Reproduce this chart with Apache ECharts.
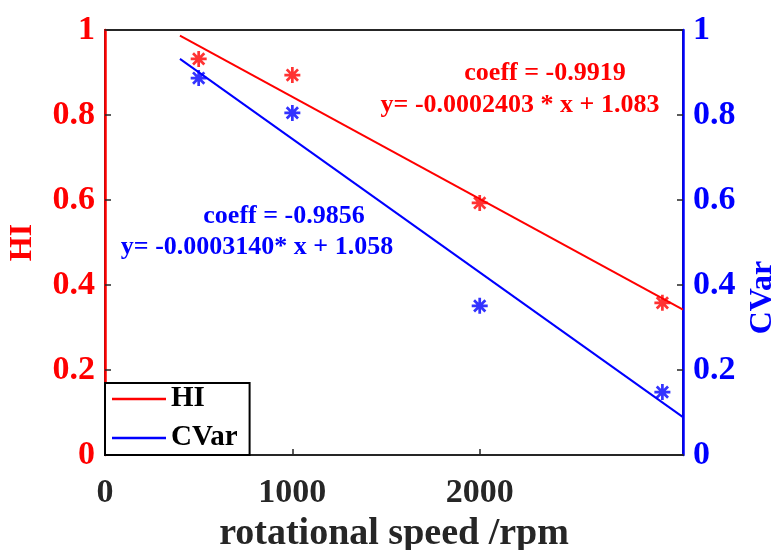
<!DOCTYPE html>
<html>
<head>
<meta charset="utf-8">
<script src="https://cdn.jsdelivr.net/npm/echarts@6/dist/echarts.min.js"></script>
<style>
html,body{margin:0;padding:0;background:#fff;}
#c{width:774px;height:550px;}
</style>
</head>
<body>
<div id="c"></div>
<script>
// ---- data ----
const speeds = [500, 1000, 2000, 2975];
const hiValues = [0.932, 0.894, 0.593, 0.358];
const cvarValues = [0.887, 0.805, 0.351, 0.148];
const hiFitX = [400, 3085];
const hiFitY = [0.987, 0.342];
const cvarFitX = [400, 3085];
const cvarFitY = [0.932, 0.089];
const xTickValues = [0, 1000, 2000];
const yTickValues = [0, 0.2, 0.4, 0.6, 0.8, 1];
const hiNote = ['coeff = -0.9919', 'y= -0.0002403 * x + 1.083'];
const cvarNote = ['coeff = -0.9856', 'y= -0.0003140* x + 1.058'];

const FONT = '"Liberation Serif", "Times New Roman", serif';
const RED = '#ff0000', BLUE = '#0000ff', DARK = '#262626';
const STAR = 'path://M-1.7,-10 L1.7,-10 L1.7,10 L-1.7,10 Z M-10,-1.7 L10,-1.7 L10,1.7 L-10,1.7 Z M-5.87,-8.27 L8.27,5.87 L5.87,8.27 L-8.27,-5.87 Z M-8.27,5.87 L5.87,-8.27 L8.27,-5.87 L-5.87,8.27 Z';

const pairs = (xs, ys) => xs.map((x, i) => [x, ys[i]]);

const chart = echarts.init(document.getElementById('c'), null, {renderer: 'canvas'});

function yAxisCfg(pos, color) {
  return {
    type: 'value', position: pos, min: 0, max: 1, interval: 0.2,
    axisLine: {show: true, lineStyle: {color: color, width: 2.5}},
    axisTick: {show: true, inside: true, length: 6, lineStyle: {color: DARK, width: 1.5}},
    axisLabel: {color: color, fontFamily: FONT, fontWeight: 'bold', fontSize: 34, margin: 10,
      customValues: yTickValues},
    splitLine: {show: false}
  };
}

const left = yAxisCfg('left', RED);
left.name = 'HI';
left.nameLocation = 'middle';
left.nameGap = 66;
left.nameTextStyle = {color: RED, fontFamily: FONT, fontWeight: 'bold', fontSize: 32};

const right = yAxisCfg('right', BLUE);
right.name = 'CVar';
right.nameLocation = 'middle';
right.nameGap = 50;
right.nameRotate = 90;
right.nameTextStyle = {color: BLUE, fontFamily: FONT, fontWeight: 'bold', fontSize: 32, padding: [0, 110, 0, 0]};

function noteTexts(lines, cx, cy, gap, color) {
  return lines.map((t, i) => ({
    type: 'text', x: cx[i], y: cy + i * gap, z: 100,
    style: {text: t, fill: color, font: 'bold 26px ' + FONT, textAlign: 'center', textVerticalAlign: 'middle'}
  }));
}

chart.setOption({
  animation: false,
  backgroundColor: '#ffffff',
  grid: {left: 105, right: 91, top: 30, bottom: 95, outerBoundsMode: 'none', containLabel: false,
    show: true, borderColor: DARK, borderWidth: 2, backgroundColor: 'transparent'},
  xAxis: {
    type: 'value', min: 0, max: 3085, interval: 1000,
    name: 'rotational speed /rpm', nameLocation: 'middle', nameGap: 45,
    nameTextStyle: {color: DARK, fontFamily: FONT, fontWeight: 'bold', fontSize: 38},
    axisLine: {show: true, lineStyle: {color: DARK, width: 2}},
    axisTick: {show: true, inside: true, length: 6, lineStyle: {color: DARK, width: 1.5}, customValues: xTickValues},
    axisLabel: {color: DARK, fontFamily: FONT, fontWeight: 'bold', fontSize: 34, margin: 21, customValues: xTickValues,
      formatter: v => String(v)},
    splitLine: {show: false}
  },
  yAxis: [left, right],
  legend: {
    data: [{name: 'HI', icon: 'rect'}, {name: 'CVar', icon: 'rect'}], orient: 'vertical', left: 105, top: 383,
    backgroundColor: '#fff', borderColor: '#000', borderWidth: 2, borderRadius: 0,
    padding: [1, 12, 2, 7], itemWidth: 54, itemHeight: 2.5, itemGap: 9,
    textStyle: {color: '#000', fontFamily: FONT, fontWeight: 'bold', fontSize: 29, lineHeight: 30, padding: [0, 0, 0, 0]}
  },
  series: [
    {name: 'HI', type: 'line', yAxisIndex: 0, data: pairs(hiFitX, hiFitY), symbol: 'none',
      lineStyle: {color: RED, width: 2}, itemStyle: {color: RED}, z: 3},
    {name: 'CVar', type: 'line', yAxisIndex: 1, data: pairs(cvarFitX, cvarFitY), symbol: 'none',
      lineStyle: {color: BLUE, width: 2}, itemStyle: {color: BLUE}, z: 3},
    {name: 'HI data', type: 'scatter', yAxisIndex: 0, data: pairs(speeds, hiValues), symbol: STAR, symbolSize: 16,
      itemStyle: {color: RED}, z: 4},
    {name: 'CVar data', type: 'scatter', yAxisIndex: 1, data: pairs(speeds, cvarValues), symbol: STAR, symbolSize: 16,
      itemStyle: {color: BLUE}, z: 4}
  ],
  graphic: [].concat(
    noteTexts(hiNote, [545, 520], 73, 32, RED),
    noteTexts(cvarNote, [284, 257], 216, 31, BLUE)
  )
});
</script>
</body>
</html>
